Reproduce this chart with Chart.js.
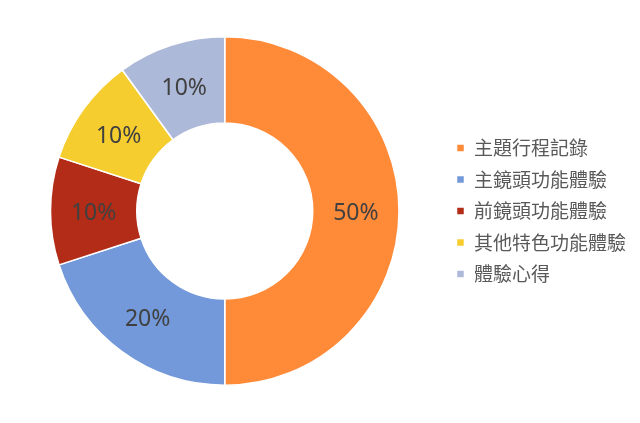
<!DOCTYPE html>
<html lang="zh-Hant">
<head>
  <meta charset="UTF-8" />
  <title>Donut</title>
  <script src="https://cdn.jsdelivr.net/npm/chart.js"></script>
  <style>
    html, body { margin: 0; background: #ffffff; }
    #wrap { width: 640px; height: 423px; }
  </style>
</head>
<body>
  <div id="wrap"><canvas id="donut"></canvas></div>
  <script>
    const labels = ['主題行程記錄', '主鏡頭功能體驗', '前鏡頭功能體驗', '其他特色功能體驗', '體驗心得'];
    const values = [50, 20, 10, 10, 10];
    const colors = ['#FF8A38', '#7399DA', '#B22C17', '#F5CD2E', '#ADB9D8'];

    // draws the percent text in the middle of each ring slice
    const sliceLabels = {
      id: 'sliceLabels',
      afterDatasetsDraw(chart) {
        const ctx = chart.ctx;
        const total = values.reduce((a, b) => a + b, 0);
        ctx.save();
        ctx.font = '23px "Noto Sans", sans-serif';
        ctx.fillStyle = '#404040';
        ctx.textAlign = 'center';
        ctx.textBaseline = 'middle';
        chart.getDatasetMeta(0).data.forEach((arc, i) => {
          const p = arc.tooltipPosition();
          ctx.fillText(Math.round(values[i] / total * 100) + '%', p.x, p.y + 2.5);
        });
        ctx.restore();
      }
    };

    new Chart(document.getElementById('donut'), {
      type: 'doughnut',
      data: {
        labels: labels,
        datasets: [{
          data: values,
          backgroundColor: colors,
          borderColor: '#ffffff',
          borderWidth: 1.5
        }]
      },
      options: {
        responsive: true,
        maintainAspectRatio: false,
        animation: false,
        cutout: '50.5%',
        layout: { padding: { top: 36, bottom: 37, left: 5.5, right: 4 } },
        plugins: {
          tooltip: { enabled: false },
          legend: {
            position: 'right',
            labels: {
              color: '#595959',
              boxWidth: 8,
              boxHeight: 8,
              padding: 12.5,
              font: { size: 19, family: '"Noto Sans CJK TC", sans-serif' }
            }
          }
        }
      },
      plugins: [sliceLabels]
    });
  </script>
</body>
</html>
